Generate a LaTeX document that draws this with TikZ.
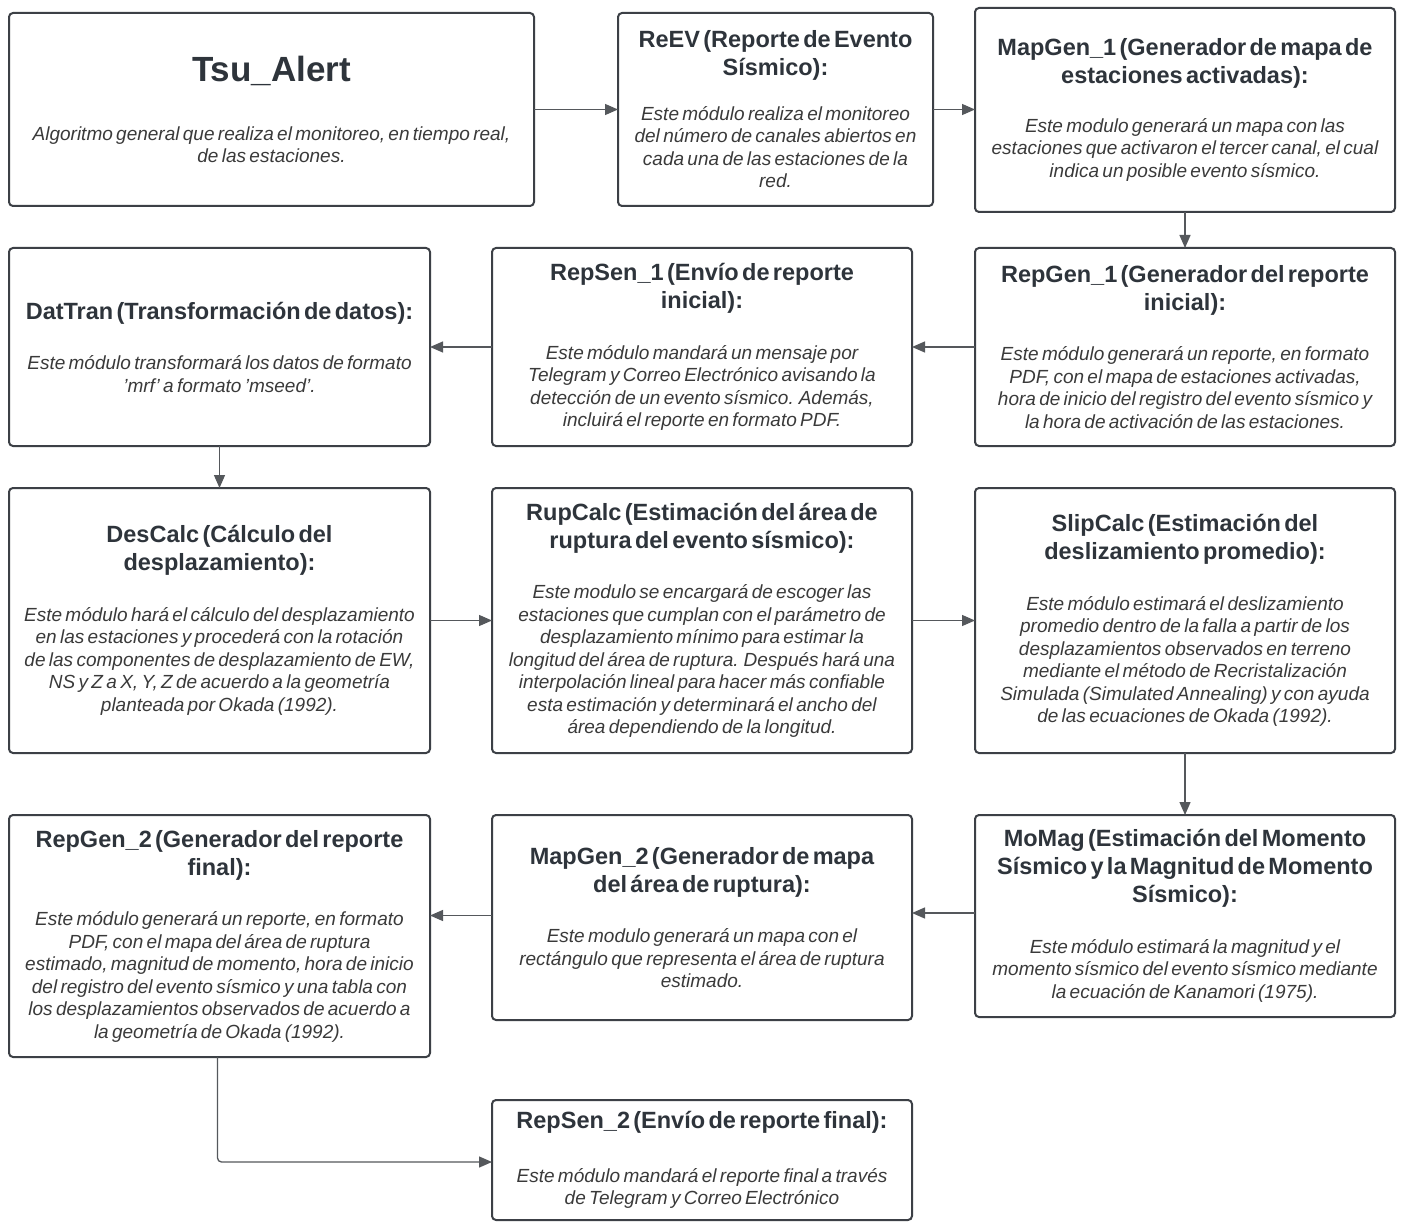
\documentclass[tikz,border=0pt]{standalone}
\usepackage{fontspec}
\setmainfont{Liberation Sans}
\usetikzlibrary{arrows.meta,calc}
\definecolor{boxc}{HTML}{3C4046}
\definecolor{titlec}{HTML}{2E343B}
\definecolor{bodyc}{HTML}{3A3A3A}
\definecolor{arrc}{HTML}{55585C}
\newcommand{\ttlf}{\fontsize{23.5}{28}\selectfont\bfseries\color{titlec}}
\newcommand{\bdyf}{\fontsize{19}{22.5}\selectfont\itshape\color{bodyc}}
\newcommand{\mybox}[3][28pt]{{\ttlf #2\par}\vspace{#1}{\bdyf #3\par}}
\begin{document}
\begin{tikzpicture}[x=1pt,y=-1pt,
  modbox/.style={draw=boxc, line width=2pt, rounded corners=4pt, fill=white,
    inner sep=0pt, outer sep=0pt, align=center},
  arr/.style={draw=arrc, line width=1.3pt, -{Triangle[length=13pt,width=11pt]}}]
\useasboundingbox (0,0) rectangle (1402,1222);
\fill[white] (0,0) rectangle (1402,1222);

\node[modbox, minimum width=525pt, minimum height=193pt, text width=515pt] (tsu) at (271.5,109.5)
  {{\fontsize{35}{40}\selectfont\bfseries\color{titlec}Tsu\_Alert\par}\vspace{36pt}{\bdyf Algoritmo general que realiza el monitoreo, en tiempo real,\\de las estaciones.\par}};

\node[modbox, minimum width=315pt, minimum height=193pt, text width=311pt] (reev) at (775.5,109.5)
  {\mybox[22pt]{ReEV (Reporte de Evento\\Sísmico):}{Este módulo realiza el monitoreo\\del número de canales abiertos en\\cada una de las estaciones de la\\red.}};

\node[modbox, minimum width=420pt, minimum height=204pt, text width=416pt] (mg1) at (1185,110)
  {\mybox[26pt]{MapGen\_1 (Generador de mapa de\\estaciones activadas):}{Este modulo generará un mapa con las\\estaciones que activaron el tercer canal, el cual\\indica un posible evento sísmico.}};

\node[modbox, minimum width=420pt, minimum height=198pt, text width=416pt] (rg1) at (1185,347)
  {\mybox{RepGen\_1 (Generador del reporte\\inicial):}{Este módulo generará un reporte, en formato\\PDF, con el mapa de estaciones activadas,\\hora de inicio del registro del evento sísmico y\\la hora de activación de las estaciones.}};

\node[modbox, minimum width=420pt, minimum height=198pt, text width=416pt] (rs1) at (702,347)
  {\mybox{RepSen\_1 (Envío de reporte\\inicial):}{Este módulo mandará un mensaje por\\Telegram y Correo Electrónico avisando la\\detección de un evento sísmico. Además,\\incluirá el reporte en formato PDF.}};

\node[modbox, minimum width=421pt, minimum height=198pt, text width=417pt] (dt) at (219.5,347)
  {\mybox{DatTran (Transformación de datos):}{Este módulo transformará los datos de formato\\'mrf' a formato 'mseed'.}};

\node[modbox, minimum width=421pt, minimum height=265pt, text width=417pt] (dc) at (219.5,620.5)
  {\mybox{DesCalc (Cálculo del\\desplazamiento):}{Este módulo hará el cálculo del desplazamiento\\en las estaciones y procederá con la rotación\\de las componentes de desplazamiento de EW,\\NS y Z a X, Y, Z de acuerdo a la geometría\\planteada por Okada (1992).}};

\node[modbox, minimum width=420pt, minimum height=265pt, text width=416pt] (rc) at (702,620.5)
  {\mybox{RupCalc (Estimación del área de\\ruptura del evento sísmico):}{Este modulo se encargará de escoger las\\estaciones que cumplan con el parámetro de\\desplazamiento mínimo para estimar la\\longitud del área de ruptura. Después hará una\\interpolación lineal para hacer más confiable\\esta estimación y determinará el ancho del\\área dependiendo de la longitud.}};

\node[modbox, minimum width=420pt, minimum height=265pt, text width=416pt] (sc) at (1185,620.5)
  {\mybox{SlipCalc (Estimación del\\deslizamiento promedio):}{Este módulo estimará el deslizamiento\\promedio dentro de la falla a partir de los\\desplazamientos observados en terreno\\mediante el método de Recristalización\\Simulada (Simulated Annealing) y con ayuda\\de las ecuaciones de Okada (1992).}};

\node[modbox, minimum width=420pt, minimum height=202pt, text width=416pt] (mm) at (1185,916)
  {\mybox{MoMag (Estimación del Momento\\Sísmico y la Magnitud de Momento\\Sísmico):}{Este módulo estimará la magnitud y el\\momento sísmico del evento sísmico mediante\\la ecuación de Kanamori (1975).}};

\node[modbox, minimum width=420pt, minimum height=205pt, text width=416pt] (mg2) at (702,917.5)
  {\mybox{MapGen\_2 (Generador de mapa\\del área de ruptura):}{Este modulo generará un mapa con el\\rectángulo que representa el área de ruptura\\estimado.}};

\node[modbox, minimum width=421pt, minimum height=242pt, text width=417pt] (rg2) at (219.5,936)
  {\mybox{RepGen\_2 (Generador del reporte\\final):}{Este módulo generará un reporte, en formato\\PDF, con el mapa del área de ruptura\\estimado, magnitud de momento, hora de inicio\\del registro del evento sísmico y una tabla con\\los desplazamientos observados de acuerdo a\\la geometría de Okada (1992).}};

\node[modbox, minimum width=420pt, minimum height=120pt, text width=416pt] (rs2) at (702,1160)
  {\mybox[31pt]{RepSen\_2 (Envío de reporte final):}{Este módulo mandará el reporte final a través\\de Telegram y Correo Electrónico}};

\coordinate (mmout) at ($(mm.west)+(0,-3)$);
\coordinate (mg2out) at ($(mg2.west)+(0,-2)$);
\coordinate (rg2out) at ($(rg2.south)+(-2,0)$);
\coordinate (rs2in) at ($(rs2.west)+(0,2)$);

\draw[arr] (tsu.east) -- (reev.west);
\draw[arr] (reev.east) -- (reev.east -| mg1.west);
\draw[arr] (mg1.south) -- (rg1.north);
\draw[arr] (rg1.west) -- (rs1.east);
\draw[arr] (rs1.west) -- (dt.east);
\draw[arr] (dt.south) -- (dc.north);
\draw[arr] (dc.east) -- (rc.west);
\draw[arr] (rc.east) -- (sc.west);
\draw[arr] (sc.south) -- (mm.north);
\draw[arr] (mmout) -- (mmout -| mg2.east);
\draw[arr] (mg2out) -- (mg2out -| rg2.east);
\draw[arr, rounded corners=4pt] (rg2out) |- (rs2in);
\end{tikzpicture}
\end{document}
